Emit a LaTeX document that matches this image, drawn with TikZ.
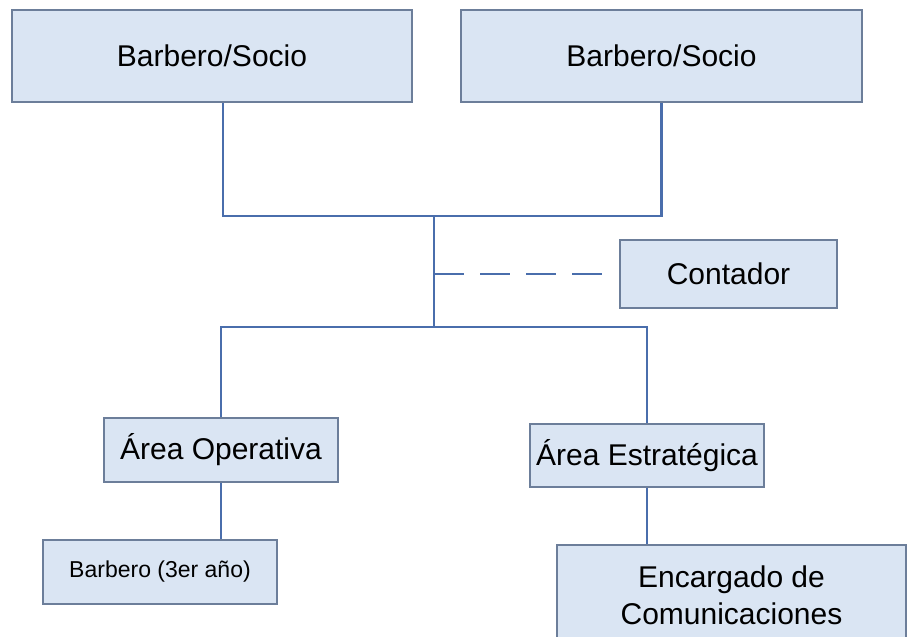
\documentclass[tikz,border=0pt]{standalone}
\usepackage{fontspec}
\setmainfont{Liberation Sans}
\usepackage{tikz}

\definecolor{boxfill}{RGB}{218,229,243}
\definecolor{boxline}{RGB}{108,126,154}
\definecolor{linkblue}{RGB}{74,110,172}

\begin{document}
\begin{tikzpicture}[x = 1pt, y = -1pt, font = \fontsize{30}{37}\selectfont,
        cargo/.style = {draw = boxline, line width = 1.5pt, fill = boxfill, inner sep = 0pt, align = center},
        link/.style = {draw = linkblue, line width = 2.6pt}]
        \path [use as bounding box, clip] (0,0) rectangle (910,637);
        
        \node [cargo, minimum width = 400pt, minimum height = 92pt] (socioA) at (212,56) {Barbero/Socio};
        \node [cargo, minimum width = 401pt, minimum height = 92pt] (socioB) at (661.5,56) {Barbero/Socio};
        \node [cargo, minimum width = 217pt, minimum height = 68pt] (contador) at (728.5,274) {Contador};
        \node [cargo, minimum width = 234pt, minimum height = 64pt] (operativa) at (221,450) {Área Operativa};
        \node [cargo, minimum width = 234pt, minimum height = 63pt] (estrategica) at (647,455.5) {Área Estratégica};
        \node [cargo, minimum width = 234pt, minimum height = 64pt, font = \fontsize{23}{28}\selectfont] (barbero) at (160,572) {Barbero (3er año)};
        \node [cargo, minimum width = 349pt, minimum height = 100pt] (encargado) at (731.5,595) {Encargado de\\Comunicaciones};
        
        \coordinate (top) at (434,216);
        \coordinate (mid) at (434,274);
        \coordinate (bot) at (434,327);
        
        \draw [link] ([xshift = 11pt]socioA.south) |- (top) -| (socioB.south);
        \draw [link] (top) -- (bot);
        \draw [link] (operativa.north) |- (bot) -| (estrategica.north);
        \draw [link] (operativa.south) -- (operativa.south |- barbero.north);
        \draw [link] (estrategica.south) -- (estrategica.south |- encargado.north);
        \draw [link, dash pattern = on 30pt off 16pt] (mid) -- ([xshift = -16pt]contador.west);
    \end{tikzpicture}
\end{document}
